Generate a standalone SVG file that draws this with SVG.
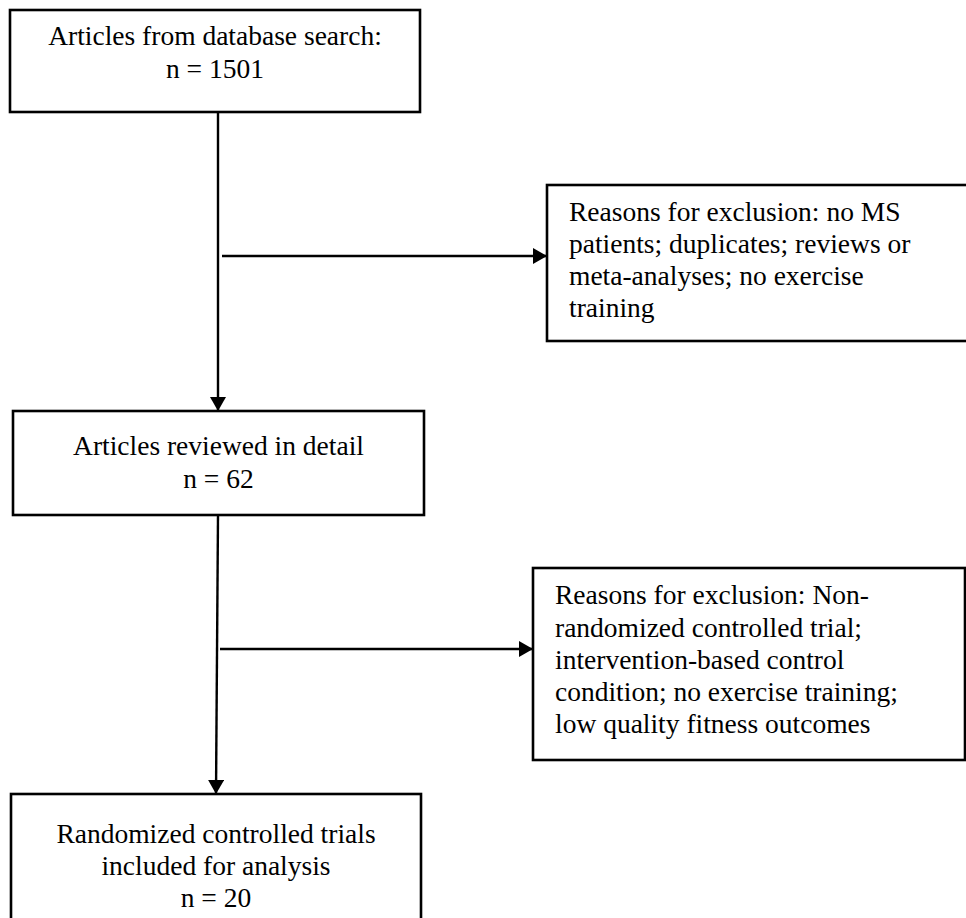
<svg xmlns="http://www.w3.org/2000/svg" width="966" height="918" viewBox="0 0 966 918">
<style>
.box{fill:#fff;stroke:#000;stroke-width:2.6}
.t{font-family:"Liberation Serif","Times New Roman",serif;font-size:27.5px;fill:#000}
.c{text-anchor:middle}
.ln{stroke:#000;stroke-width:2.4;fill:none}
</style>
<defs>
<marker id="ah" viewBox="0 0 14 16" refX="14" refY="8" markerWidth="14" markerHeight="16" markerUnits="userSpaceOnUse" orient="auto">
<path d="M0,0 L14,8 L0,16 Z" fill="#000"/>
</marker>
</defs>
<rect width="966" height="918" fill="#fff"/>
<g id="connectors">
<line class="ln" x1="218" y1="112" x2="218" y2="411" marker-end="url(#ah)"/>
<line class="ln" x1="222" y1="256" x2="547" y2="256" marker-end="url(#ah)"/>
<line class="ln" x1="218" y1="515" x2="216" y2="794" marker-end="url(#ah)"/>
<line class="ln" x1="220" y1="649" x2="533" y2="649" marker-end="url(#ah)"/>
</g>
<g id="n1">
<rect class="box" x="10" y="10" width="410" height="102"/>
<text class="t c" x="215" y="45">Articles from database search:</text>
<text class="t c" x="215" y="78">n = 1501</text>
</g>
<g id="n2">
<rect class="box" x="547" y="185" width="425" height="156"/>
<text class="t" x="569" y="221">Reasons for exclusion: no MS</text>
<text class="t" x="569" y="253">patients; duplicates; reviews or</text>
<text class="t" x="569" y="285">meta-analyses; no exercise</text>
<text class="t" x="569" y="317">training</text>
</g>
<g id="n3">
<rect class="box" x="13" y="411" width="411" height="104"/>
<text class="t c" x="218.5" y="455">Articles reviewed in detail</text>
<text class="t c" x="218.5" y="488">n = 62</text>
</g>
<g id="n4">
<rect class="box" x="533" y="568" width="432" height="192"/>
<text class="t" x="555" y="604">Reasons for exclusion: Non-</text>
<text class="t" x="555" y="637">randomized controlled trial;</text>
<text class="t" x="555" y="669">intervention-based control</text>
<text class="t" x="555" y="701">condition; no exercise training;</text>
<text class="t" x="555" y="733">low quality fitness outcomes</text>
</g>
<g id="n5">
<rect class="box" x="11" y="794" width="410" height="135"/>
<text class="t c" x="216" y="843">Randomized controlled trials</text>
<text class="t c" x="216" y="875">included for analysis</text>
<text class="t c" x="216" y="907">n = 20</text>
</g>
</svg>
